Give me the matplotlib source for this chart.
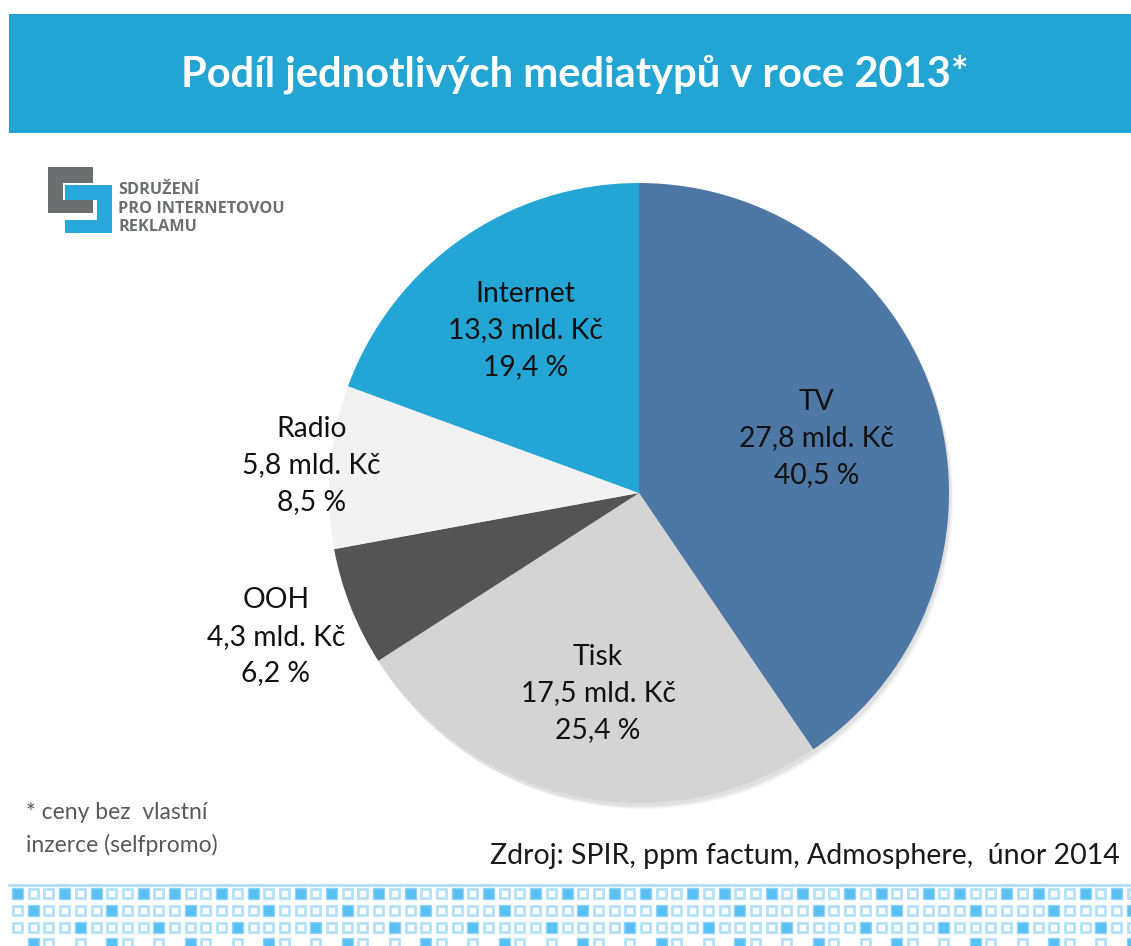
import numpy as np
import matplotlib
matplotlib.use("Agg")
import matplotlib.pyplot as plt
from matplotlib.patches import Rectangle, Circle

# ---- data ----
categories = ["TV", "Tisk", "OOH", "Radio", "Internet"]
values_bn = [27.8, 17.5, 4.3, 5.8, 13.3]
shares = [40.5, 25.4, 6.2, 8.5, 19.4]
colors = ["#4d78a6", "#d4d4d4", "#545454", "#f2f2f2", "#23a6d5"]
label_radius = [0.60, 0.66, 1.26, 1.06, 0.64]

title = "Podíl jednotlivých mediatypů v roce 2013*"
footnote = "* ceny bez  vlastní\ninzerce (selfpromo)"
source = "Zdroj: SPIR, ppm factum, Admosphere,  únor 2014"
logo_lines = ["SDRUŽENÍ", "PRO INTERNETOVOU", "REKLAMU"]

W, H = 1131, 946
FONT = ["Lato", "DejaVu Sans"]
plt.rcParams["font.family"] = FONT

fig = plt.figure(figsize=(W / 100, H / 100), dpi=100)
fig.patch.set_facecolor("white")

# overlay axes in pixel coordinates
bg = fig.add_axes([0, 0, 1, 1])
bg.set_xlim(0, W)
bg.set_ylim(H, 0)
bg.axis("off")

# title banner
bg.add_patch(Rectangle((9, 14), W - 9, 119, color="#23a5d3", lw=0))
bg.text(575, 74, title, color="white", fontsize=30, fontweight="bold",
        ha="center", va="center")

# logo
gray = "#6d6e70"
blue = "#29a6dc"
for (x, y, w, h) in [(48, 167, 45, 16), (48, 167, 15, 46), (48, 200, 45, 13)]:
    bg.add_patch(Rectangle((x, y), w, h, color=gray, lw=0))
for (x, y, w, h) in [(65, 185, 47, 15), (97, 185, 15, 48), (65, 220, 47, 13)]:
    bg.add_patch(Rectangle((x, y), w, h, color=blue, lw=0))
for i, t in enumerate(logo_lines):
    bg.text(118, 190 + i * 18.5, t, color=gray, fontsize=11.7, fontweight="bold",
            ha="left", va="center", family=["Open Sans", "DejaVu Sans"],
            fontstretch="condensed")

# footnote & source
bg.text(26, 812, footnote.split("\n")[0], color="#595959", fontsize=16.5,
        ha="left", va="center")
bg.text(26, 845, footnote.split("\n")[1], color="#595959", fontsize=16.5,
        ha="left", va="center")
bg.text(1120, 856, source, color="#1a1a1a", fontsize=20.5, ha="right", va="center")

# footer decoration
bg.plot([9, W], [885, 885], color="#b3dcf2", lw=2)
rows_y = [893, 910, 927, 943]
ncols = 72
for r, yc in enumerate(rows_y):
    for i in range(ncols):
        xc = 17.5 + 15.7 * i
        if r == 0:
            filled = (i % 5) in (0, 3)
            present = True
        elif r == 1:
            filled = (i % 5) == 1
            present = True
        elif r == 2:
            filled = (i % 5) == 4
            present = True
        else:
            filled = (i % 5) == 1
            present = (i % 5) in (1, 2, 4)
        if not present:
            continue
        if filled:
            bg.add_patch(Rectangle((xc - 5.5, yc - 5.5), 11, 11, facecolor="#59c0f5",
                                   edgecolor="#8fd3f7", lw=1))
        else:
            bg.add_patch(Rectangle((xc - 4.5, yc - 4.5), 9, 9, facecolor="white",
                                   edgecolor="#b3e1f9", lw=2))

# pie axes: center (639, 493), radius 310 px
cx, cy, R = 639, 493, 310
ax = fig.add_axes([(cx - R) / W, (H - cy - R) / H, 2 * R / W, 2 * R / H])

wedges, _ = ax.pie(shares, colors=colors, startangle=90, counterclock=False,
                   radius=1.0, wedgeprops=dict(linewidth=0))
for w in wedges:
    w.set_zorder(2)

# subtle shadow
for k, a in enumerate([0.05, 0.04, 0.03]):
    ax.add_patch(Circle((0.006 + 0.004 * k, -0.012 - 0.004 * k), 1.0,
                        color="black", alpha=a, lw=0, zorder=0, clip_on=False))

ax.set_xlim(-1, 1)
ax.set_ylim(-1, 1)
ax.set_aspect("equal")
ax.axis("off")

for w, cat, v, s, lr in zip(wedges, categories, values_bn, shares, label_radius):
    mid = np.deg2rad((w.theta1 + w.theta2) / 2)
    x, y = lr * np.cos(mid), lr * np.sin(mid)
    txt = f"{cat}\n{v:.1f} mld. Kč\n{s:.1f} %".replace(".", ",").replace("mld, ", "mld. ")
    ax.text(x, y, txt, ha="center", va="center", fontsize=20.3, color="#111111",
            linespacing=1.5, zorder=5, clip_on=False)

fig.savefig("out.png", dpi=100, facecolor="white")
